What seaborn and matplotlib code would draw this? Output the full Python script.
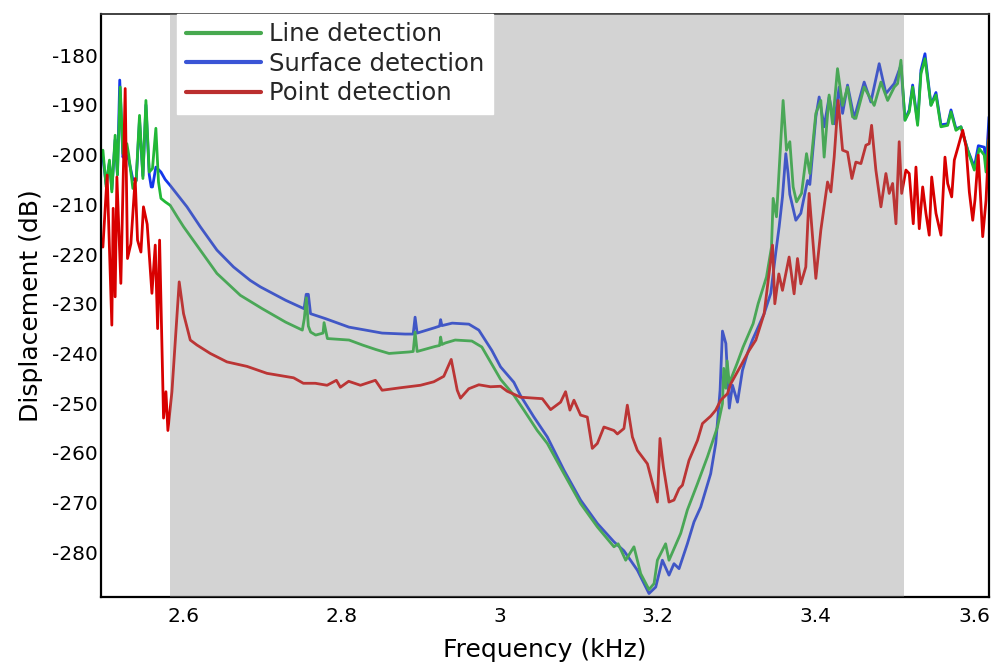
import numpy as np
import pandas as pd
import matplotlib
matplotlib.use("Agg")
import matplotlib.pyplot as plt
import seaborn as sns
from matplotlib.lines import Line2D

# ---------------- data ----------------
line_x = [2.4984, 2.5025, 2.5067, 2.5097, 2.5139, 2.5168, 2.5203, 2.5237, 2.5287, 2.5310,
          2.5363, 2.5405, 2.5447, 2.5490, 2.5528, 2.5570, 2.5611, 2.5654, 2.5687, 2.5718,
          2.5772, 2.5835, 2.5924, 2.6004, 2.6215, 2.6426, 2.6722, 2.7000, 2.7295, 2.7506,
          2.7531, 2.7557, 2.7582, 2.7611, 2.7675, 2.7768, 2.7781, 2.7806, 2.7823, 2.8097,
          2.8266, 2.8434, 2.8603, 2.8856, 2.8908, 2.8932, 2.8958, 2.9184, 2.9241, 2.9255,
          2.9271, 2.9312, 2.9439, 2.9650, 2.9776, 2.9903, 3.0013, 3.0181, 3.0308, 3.0477,
          3.0604, 3.0815, 3.1025, 3.1237, 3.1447, 3.1500, 3.1595, 3.1700, 3.1785, 3.1890,
          3.1954, 3.1996, 3.2100, 3.2143, 3.2206, 3.2291, 3.2375, 3.2503, 3.2629, 3.2756,
          3.2819, 3.2835, 3.2862, 3.2878, 3.2905, 3.3004, 3.3080, 3.3207, 3.3270, 3.3376,
          3.3439, 3.3460, 3.3502, 3.3586, 3.3629, 3.3671, 3.3713, 3.3756, 3.3819, 3.3882,
          3.3924, 3.4000, 3.4063, 3.4105, 3.4168, 3.4211, 3.4274, 3.4338, 3.4401, 3.4464,
          3.4506, 3.4611, 3.4738, 3.4823, 3.4908, 3.4992, 3.5034, 3.5076, 3.5127, 3.5181,
          3.5224, 3.5287, 3.5329, 3.5380, 3.5456, 3.5519, 3.5582, 3.5667, 3.5709, 3.5772,
          3.5835, 3.5920, 3.6004, 3.6067, 3.6130, 3.6152, 3.6181]
line_y = [-199.1, -206.5, -201.1, -207.5, -196.1, -204.1, -186.4, -199.8, -197.8, -200.0,
          -206.8, -205.2, -192.1, -204.8, -189.1, -203.5, -202.8, -194.7, -205.5, -208.8,
          -209.5, -210.2, -212.5, -214.5, -219.2, -223.9, -228.3, -231.0, -233.7, -235.3,
          -233.0, -228.8, -234.5, -235.7, -236.3, -235.9, -233.8, -235.7, -237.0, -237.3,
          -238.3, -239.2, -240.0, -239.7, -239.6, -235.7, -239.6, -238.6, -238.4, -236.7,
          -238.2, -237.9, -237.3, -237.5, -238.7, -242.2, -245.2, -248.4, -251.4, -255.5,
          -258.1, -264.2, -270.2, -274.9, -278.9, -278.3, -281.6, -278.9, -284.3, -287.5,
          -286.3, -281.6, -278.3, -281.6, -279.3, -276.2, -271.5, -266.2, -260.8, -254.8,
          -250.1, -243.0, -247.0, -241.5, -246.0, -242.0, -238.7, -234.0, -230.0, -224.6,
          -218.6, -208.8, -212.5, -189.1, -199.1, -197.4, -206.5, -209.5, -207.8, -199.8,
          -203.8, -191.7, -189.1, -200.5, -188.0, -193.8, -182.7, -190.1, -186.4, -192.4,
          -192.7, -186.4, -190.1, -185.4, -189.1, -186.4, -185.7, -181.0, -193.1, -191.4,
          -186.4, -194.1, -183.7, -180.7, -190.1, -188.0, -194.4, -194.1, -191.4, -195.1,
          -194.4, -199.1, -203.1, -198.8, -200.1, -203.5, -197.1]

surface_x = [2.4984, 2.5025, 2.5067, 2.5097, 2.5139, 2.5168, 2.5197, 2.5237, 2.5265, 2.5310,
             2.5363, 2.5405, 2.5447, 2.5490, 2.5528, 2.5570, 2.5595, 2.5611, 2.5654, 2.5687,
             2.5718, 2.5772, 2.5835, 2.6047, 2.6215, 2.6426, 2.6636, 2.6847, 2.6975, 2.7295,
             2.7528, 2.7555, 2.7582, 2.7610, 2.7800, 2.8095, 2.8306, 2.8515, 2.8808, 2.8908,
             2.8932, 2.8958, 2.9184, 2.9241, 2.9255, 2.9271, 2.9401, 2.9612, 2.9738, 2.9903,
             3.0013, 3.0181, 3.0266, 3.0435, 3.0604, 3.0815, 3.1025, 3.1237, 3.1447, 3.1573,
             3.1743, 3.1890, 3.1975, 3.2059, 3.2143, 3.2206, 3.2270, 3.2375, 3.2459, 3.2544,
             3.2670, 3.2734, 3.2789, 3.2819, 3.2862, 3.2905, 3.2946, 3.3009, 3.3072, 3.3135,
             3.3198, 3.3346, 3.3430, 3.3494, 3.3536, 3.3578, 3.3620, 3.3649, 3.3671, 3.3747,
             3.3810, 3.3895, 3.3924, 3.4000, 3.4042, 3.4105, 3.4168, 3.4232, 3.4295, 3.4338,
             3.4401, 3.4485, 3.4611, 3.4696, 3.4801, 3.4886, 3.4992, 3.5076, 3.5127, 3.5181,
             3.5224, 3.5287, 3.5329, 3.5380, 3.5456, 3.5519, 3.5582, 3.5667, 3.5709, 3.5772,
             3.5835, 3.5920, 3.6004, 3.6055, 3.6130, 3.6152, 3.6190]
surface_y = [-200.5, -206.0, -201.5, -207.0, -197.0, -204.0, -185.0, -200.5, -199.5, -201.0,
             -205.0, -205.2, -193.0, -204.3, -190.0, -204.0, -206.5, -206.5, -202.5, -203.0,
             -203.5, -205.0, -206.2, -210.5, -214.5, -219.2, -222.6, -225.3, -226.6, -229.3,
             -231.0, -228.1, -228.1, -232.0, -233.0, -234.7, -235.3, -235.9, -236.1, -236.1,
             -232.7, -235.9, -234.8, -234.5, -233.2, -234.4, -233.9, -234.1, -235.3, -239.4,
             -242.7, -245.8, -248.5, -252.8, -256.8, -263.5, -269.5, -274.2, -277.9, -279.7,
             -283.6, -288.3, -287.0, -281.6, -284.6, -282.3, -283.3, -278.3, -273.9, -270.9,
             -264.2, -258.1, -247.4, -235.5, -238.0, -251.0, -246.4, -249.8, -243.4, -240.0,
             -237.3, -232.0, -227.9, -219.6, -214.5, -208.5, -199.8, -203.8, -208.0, -213.2,
             -211.8, -205.2, -206.0, -192.4, -188.4, -194.4, -188.4, -193.8, -186.4, -191.7,
             -186.0, -192.7, -185.4, -189.4, -181.7, -187.7, -185.7, -182.0, -193.0, -191.0,
             -186.0, -193.5, -183.0, -179.7, -190.0, -187.5, -194.0, -193.8, -191.0, -194.8,
             -194.4, -199.0, -202.5, -198.2, -198.5, -202.5, -192.4]

point_x = [2.4984, 2.5038, 2.5097, 2.5114, 2.5139, 2.5161, 2.5211, 2.5266, 2.5295, 2.5338,
           2.5392, 2.5422, 2.5465, 2.5497, 2.5544, 2.5604, 2.5646, 2.5676, 2.5701, 2.5751,
           2.5781, 2.5806, 2.5857, 2.5949, 2.6004, 2.6089, 2.6173, 2.6342, 2.6553, 2.6806,
           2.7059, 2.7396, 2.7519, 2.7670, 2.7819, 2.7937, 2.7987, 2.8092, 2.8241, 2.8430,
           2.8515, 2.8747, 2.9000, 2.9168, 2.9295, 2.9389, 2.9465, 2.9506, 2.9611, 2.9738,
           2.9886, 3.0013, 3.0097, 3.0266, 3.0541, 3.0646, 3.0772, 3.0835, 3.0890, 3.0941,
           3.1025, 3.1110, 3.1173, 3.1237, 3.1320, 3.1447, 3.1490, 3.1573, 3.1616, 3.1680,
           3.1743, 3.1870, 3.1996, 3.2029, 3.2072, 3.2143, 3.2206, 3.2270, 3.2313, 3.2396,
           3.2503, 3.2566, 3.2671, 3.2734, 3.2797, 3.2882, 3.2924, 3.3050, 3.3152, 3.3241,
           3.3346, 3.3452, 3.3481, 3.3532, 3.3578, 3.3662, 3.3725, 3.3768, 3.3810, 3.3873,
           3.3915, 3.4000, 3.4063, 3.4148, 3.4190, 3.4232, 3.4282, 3.4338, 3.4401, 3.4456,
           3.4506, 3.4570, 3.4633, 3.4675, 3.4705, 3.4759, 3.4823, 3.4886, 3.4928, 3.4971,
           3.5013, 3.5054, 3.5085, 3.5139, 3.5181, 3.5232, 3.5266, 3.5308, 3.5351, 3.5392,
           3.5434, 3.5465, 3.5519, 3.5582, 3.5633, 3.5667, 3.5718, 3.5751, 3.5794, 3.5857,
           3.5899, 3.5941, 3.5984, 3.6013, 3.6054, 3.6110, 3.6152, 3.6194]
point_y = [-218.6, -204.1, -234.3, -210.8, -228.6, -204.5, -225.9, -186.7, -220.9, -217.9,
           -204.8, -217.2, -219.6, -210.5, -214.0, -227.9, -218.2, -235.0, -217.2, -253.0,
           -247.7, -255.5, -247.7, -225.6, -232.0, -237.3, -238.3, -240.0, -241.7, -242.6,
           -244.0, -244.9, -246.0, -246.0, -246.4, -245.4, -246.8, -245.6, -246.4, -245.4,
           -247.4, -246.9, -246.4, -245.7, -244.6, -241.2, -247.4, -249.0, -247.1, -246.3,
           -246.7, -246.6, -247.6, -248.8, -249.1, -251.3, -249.8, -247.7, -251.4, -249.4,
           -252.4, -252.8, -259.1, -258.1, -254.8, -255.5, -256.2, -255.1, -250.4, -256.8,
           -259.5, -262.2, -269.9, -257.1, -262.8, -269.9, -269.5, -267.2, -266.5, -261.5,
           -257.5, -254.1, -252.6, -251.4, -249.4, -248.1, -246.1, -242.5, -239.5, -237.3,
           -232.0, -218.2, -230.0, -224.0, -227.3, -220.6, -228.0, -220.9, -226.0, -222.6,
           -207.8, -224.9, -215.2, -205.5, -207.5, -200.5, -189.1, -199.1, -199.5, -204.8,
           -201.5, -201.8, -198.1, -197.8, -194.1, -203.1, -210.5, -203.8, -207.8, -205.8,
           -213.9, -197.4, -207.8, -203.1, -203.8, -213.9, -202.5, -214.9, -206.5, -211.8,
           -216.2, -204.5, -211.8, -216.2, -200.5, -205.8, -208.5, -201.1, -198.7, -195.1,
           -198.4, -207.5, -213.2, -209.0, -200.1, -216.5, -209.2, -195.1]

series_names = ["Line detection", "Surface detection", "Point detection"]
band_range = [2.5835, 3.511]
x_ticks = [2.6, 2.8, 3.0, 3.2, 3.4, 3.6]
x_tick_labels = ["2.6", "2.8", "3", "3.2", "3.4", "3.6"]
y_ticks = [-280, -270, -260, -250, -240, -230, -220, -210, -200, -190, -180]

# ---------------- styling ----------------
sns.set_theme(style="white")
plt.rcParams["font.family"] = ["DejaVu Sans"]
plt.rcParams["axes.unicode_minus"] = False

bright = {"Line detection": "#22b837", "Surface detection": "#1438ea", "Point detection": "#d80000"}
muted = {"Line detection": "#47a94f", "Surface detection": "#3a55d6", "Point detection": "#bb2f2f"}

df = pd.concat([
    pd.DataFrame({"freq": line_x, "disp": line_y, "series": "Line detection"}),
    pd.DataFrame({"freq": surface_x, "disp": surface_y, "series": "Surface detection"}),
    pd.DataFrame({"freq": point_x, "disp": point_y, "series": "Point detection"}),
], ignore_index=True)

fig = plt.figure(figsize=(9.97, 6.66), dpi=100)
ax = fig.add_axes([0.1013, 0.1036, 0.8907, 0.8754])

for name in ["Surface detection", "Line detection", "Point detection"]:
    sub = df[df["series"] == name]
    sns.lineplot(data=sub, x="freq", y="disp", color=bright[name], lw=2.0,
                 estimator=None, sort=False, ax=ax, legend=False, zorder=2)

ax.axvspan(band_range[0], band_range[1], color="#8c8c8c", alpha=0.38, lw=0, zorder=3)

ax.set_xlim(2.496, 3.619)
ax.set_ylim(-289.0, -171.7)
ax.set_xticks(x_ticks)
ax.set_xticklabels(x_tick_labels)
ax.set_yticks(y_ticks)
ax.set_yticklabels([str(v) for v in y_ticks])
ax.tick_params(axis="x", direction="in", length=3, width=1, color="black",
               labelsize=14.5, pad=7, labelcolor="black")
ax.tick_params(axis="y", length=0, labelsize=14.5, pad=2, labelcolor="black")
ax.set_xlabel("Frequency (kHz)", fontsize=18, labelpad=9, color="black")
ax.set_ylabel("Displacement (dB)", fontsize=18, labelpad=7, color="black")

for side in ["left", "bottom", "right"]:
    ax.spines[side].set_color("black")
    ax.spines[side].set_linewidth(1.6)
ax.spines["top"].set_color("#333333")
ax.spines["top"].set_linewidth(1.3)

handles = [Line2D([0], [0], color=muted[n], lw=3) for n in series_names]
leg = ax.legend(handles, series_names, loc="upper left", bbox_to_anchor=(0.0856, 1.0),
                borderaxespad=0, borderpad=0.35, fontsize=17.5, handlelength=3.1,
                handletextpad=0.35, labelspacing=0.22, frameon=True, fancybox=False,
                framealpha=1.0, edgecolor="white", facecolor="white")
leg.set_zorder(5)

fig.savefig("out.png", dpi=100)
